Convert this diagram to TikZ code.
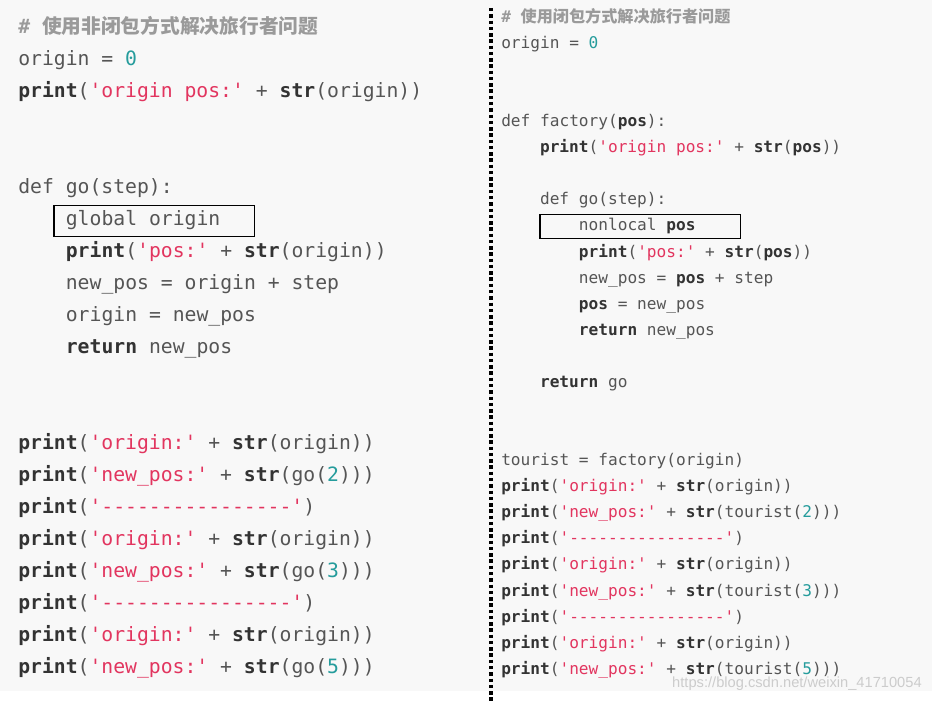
\documentclass[tikz,border=0pt]{standalone}
\usepackage{fontspec}
\setmonofont{DejaVu Sans Mono}
\newfontfamily\cjk{Noto Sans CJK SC}
\newfontfamily\wmfont{Liberation Sans}
\definecolor{codebg}{HTML}{F8F8F8}
\definecolor{txtc}{HTML}{555555}
\definecolor{kwdc}{HTML}{333333}
\definecolor{strc}{HTML}{E2355F}
\definecolor{numc}{HTML}{259C9C}
\definecolor{cmtc}{HTML}{9A9A9A}
\newcommand\kw[1]{\textcolor{kwdc}{\bfseries #1}}
\newcommand\st[1]{\textcolor{strc}{#1}}
\newcommand\nm[1]{\textcolor{numc}{#1}}
\newcommand\cm[1]{\textcolor{cmtc}{\bfseries\#\ {\cjk\bfseries #1}}}
\tikzset{
  codeL/.style={anchor=west, inner sep=0pt, text=txtc,
    font=\ttfamily\fontsize{14.8}{16}\selectfont, text height=0.75em, text depth=0.25em},
  codeR/.style={codeL, font=\ttfamily\fontsize{12.1}{13}\selectfont},
  markbox/.style={draw=black, line width=1.1pt},
}
\begin{document}
\begin{tikzpicture}[x=0.75pt,y=-0.75pt]
        \useasboundingbox (0,0) rectangle (932,702);
        \fill[codebg] (0,0) rectangle (932,691);
        \draw[line width=2.7pt, dash pattern=on 2.6pt off 2.1pt] (491,8) -- (491,702);
        % non-closure version
        \node[codeL] (l-cmt) at (18,30) {\cm{使用非闭包方式解决旅行者问题}};
        \node[codeL] (l-orig) at (18,62) {origin = \nm{0}};
        \node[codeL] (l-pr) at (18,94) {\kw{print}(\st{'origin pos:'} + \kw{str}(origin))};
        \node[codeL] (l-def) at (18,190) {def go(step):};
        \node[codeL] (l-glob) at (65.6,222) {global origin};
        \node[codeL] (l-prpos) at (65.6,254) {\kw{print}(\st{'pos:'} + \kw{str}(origin))};
        \node[codeL] (l-new) at (65.6,286) {new\_pos = origin + step};
        \node[codeL] (l-set) at (65.6,318) {origin = new\_pos};
        \node[codeL] (l-ret) at (65.6,350) {\kw{return} new\_pos};
        \draw[markbox] (54,205.5) rectangle (254.5,236.5);
        \foreach \v [count=\k from 0] in {2,3,5}{
          \node[codeL] (l-o-\v) at (18,446+96*\k) {\kw{print}(\st{'origin:'} + \kw{str}(origin))};
          \node[codeL] (l-n-\v) at (18,478+96*\k) {\kw{print}(\st{'new\_pos:'} + \kw{str}(go(\nm{\v})))};
        }
        \foreach \k in {0,1}
          \node[codeL] (l-d-\k) at (18,510+96*\k) {\kw{print}(\st{'----------------'})};
        % closure version
        \node[codeR] (r-cmt) at (501,19) {\cm{使用闭包方式解决旅行者问题}};
        \node[codeR] (r-orig) at (501,45.1) {origin = \nm{0}};
        \node[codeR] (r-def) at (501,123.3) {def factory(\kw{pos}):};
        \node[codeR] (r-pr) at (539.8,149.4) {\kw{print}(\st{'origin pos:'} + \kw{str}(\kw{pos}))};
        \node[codeR] (r-go) at (539.8,201.6) {def go(step):};
        \node[codeR] (r-nl) at (578.7,227.6) {nonlocal \kw{pos}};
        \node[codeR] (r-prpos) at (578.7,253.7) {\kw{print}(\st{'pos:'} + \kw{str}(\kw{pos}))};
        \node[codeR] (r-new) at (578.7,279.8) {new\_pos = \kw{pos} + step};
        \node[codeR] (r-set) at (578.7,305.9) {\kw{pos} = new\_pos};
        \node[codeR] (r-ret) at (578.7,332) {\kw{return} new\_pos};
        \node[codeR] (r-retgo) at (539.8,384.1) {\kw{return} go};
        \draw[markbox] (540,214.3) rectangle (740.7,238.3);
        \node[codeR] (r-tour) at (501,462.4) {tourist = factory(origin)};
        \foreach \v [count=\k from 0] in {2,3,5}{
          \node[codeR] (r-o-\v) at (501,488.4+78.24*\k) {\kw{print}(\st{'origin:'} + \kw{str}(origin))};
          \node[codeR] (r-n-\v) at (501,514.5+78.24*\k) {\kw{print}(\st{'new\_pos:'} + \kw{str}(tourist(\nm{\v})))};
        }
        \foreach \k in {0,1}
          \node[codeR] (r-d-\k) at (501,540.6+78.24*\k) {\kw{print}(\st{'----------------'})};
        \node[anchor=east, inner sep=0pt, text=black!20, font=\wmfont\fontsize{11}{12}\selectfont] (wm)
          at (922,684) {https://blog.csdn.net/weixin\_41710054};
      \end{tikzpicture}
\end{document}
